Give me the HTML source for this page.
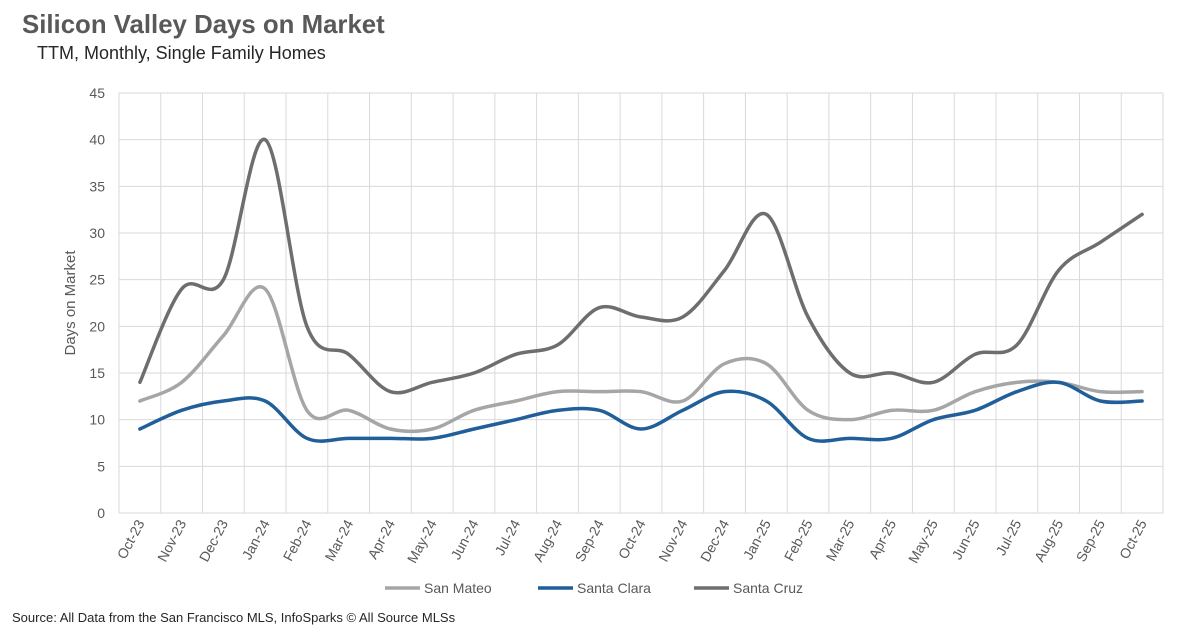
<!DOCTYPE html>
<html><head><meta charset="utf-8"><style>
body{margin:0;background:#fff;width:1182px;height:634px;overflow:hidden;font-family:"Liberation Sans",sans-serif}
</style></head><body>
<svg width="1182" height="634" xmlns="http://www.w3.org/2000/svg">
<text x="22" y="33" font-size="25.8" font-weight="bold" fill="#595959">Silicon Valley Days on Market</text>
<text x="37" y="59" font-size="18" fill="#262626">TTM, Monthly, Single Family Homes</text>
<text transform="translate(75,303) rotate(-90)" text-anchor="middle" font-size="15" fill="#595959">Days on Market</text>
<g id="grid"></g><g id="series"></g><g id="labels"></g>
<g>
<line x1="385" y1="588" x2="420" y2="588" stroke="#a6a6a6" stroke-width="3.5"/>
<text x="424" y="593" font-size="14" fill="#595959">San Mateo</text>
<line x1="538" y1="588" x2="573" y2="588" stroke="#215f9a" stroke-width="3.5"/>
<text x="577" y="593" font-size="14" fill="#595959">Santa Clara</text>
<line x1="694" y1="588" x2="729" y2="588" stroke="#6e6e6e" stroke-width="3.5"/>
<text x="733" y="593" font-size="14" fill="#595959">Santa Cruz</text>
</g>
<text x="12" y="622" font-size="13" fill="#262626">Source: All Data from the San Francisco MLS, InfoSparks © All Source MLSs</text>
</svg>
<script>
const categories=["Oct-23","Nov-23","Dec-23","Jan-24","Feb-24","Mar-24","Apr-24","May-24","Jun-24","Jul-24","Aug-24","Sep-24","Oct-24","Nov-24","Dec-24","Jan-25","Feb-25","Mar-25","Apr-25","May-25","Jun-25","Jul-25","Aug-25","Sep-25","Oct-25"];
const sanMateo=[12,14,19,24,11,11,9,9,11,12,13,13,13,12,16,16,11,10,11,11,13,14,14,13,13];
const santaClara=[9,11,12,12,8,8,8,8,9,10,11,11,9,11,13,12,8,8,8,10,11,13,14,12,12];
const santaCruz=[14,24,25,40,20,17,13,14,15,17,18,22,21,21,26,32,21,15,15,14,17,18,26,29,32];
const yTicks=[0,5,10,15,20,25,30,35,40,45];
const NS="http://www.w3.org/2000/svg";
const L=119,R=1163,T=93,B=513,YMAX=45;
const step=(R-L)/categories.length;
const x=i=>L+step*(i+0.5);
const y=v=>B-(v/YMAX)*(B-T);
const grid=document.getElementById('grid'),ser=document.getElementById('series'),lab=document.getElementById('labels');
function mk(tag,attrs,parent){const e=document.createElementNS(NS,tag);for(const k in attrs)e.setAttribute(k,attrs[k]);parent.appendChild(e);return e;}
yTicks.forEach(t=>{
 const g=mk('line',{x1:L,x2:R,y1:y(t),y2:y(t),stroke:'#d9d9d9','stroke-width':1},grid);
 
 
 const tx=mk('text',{x:L-14,y:y(t)+5,'text-anchor':'end','font-size':14,fill:'#595959'},lab);
 tx.textContent=t;
 
 
});
for(let i=0;i<=categories.length;i++){
 const g=mk('line',{x1:L+step*i,x2:L+step*i,y1:T,y2:B,stroke:'#d9d9d9','stroke-width':1},grid);
 
 
}
categories.forEach((c,i)=>{
 const tx=mk('text',{transform:`translate(${x(i)+5},${B+10}) rotate(-62)`,'text-anchor':'end','font-size':14,fill:'#595959'},lab);
 tx.textContent=c;
 
 
});
function path(vals){
 const p=vals.map((v,i)=>[x(i),y(v)]);
 let d=`M${p[0][0]},${p[0][1]}`;
 for(let i=0;i<p.length-1;i++){
  const p0=p[i-1]||p[i],p1=p[i],p2=p[i+1],p3=p[i+2]||p[i+1];
  const c1=[p1[0]+(p2[0]-p0[0])/6,p1[1]+(p2[1]-p0[1])/6];
  const c2=[p2[0]-(p3[0]-p1[0])/6,p2[1]-(p3[1]-p1[1])/6];
  d+=` C${c1[0]},${c1[1]} ${c2[0]},${c2[1]} ${p2[0]},${p2[1]}`;
 }
 return d;
}
[[sanMateo,'#a6a6a6','series-san-mateo'],[santaClara,'#215f9a','series-santa-clara'],[santaCruz,'#6e6e6e','series-santa-cruz']].forEach(([v,c,n])=>{
 const e=mk('path',{d:path(v),fill:'none',stroke:c,'stroke-width':3.5,'stroke-linecap':'round'},ser);
 
 
});
</script>
</body></html>
